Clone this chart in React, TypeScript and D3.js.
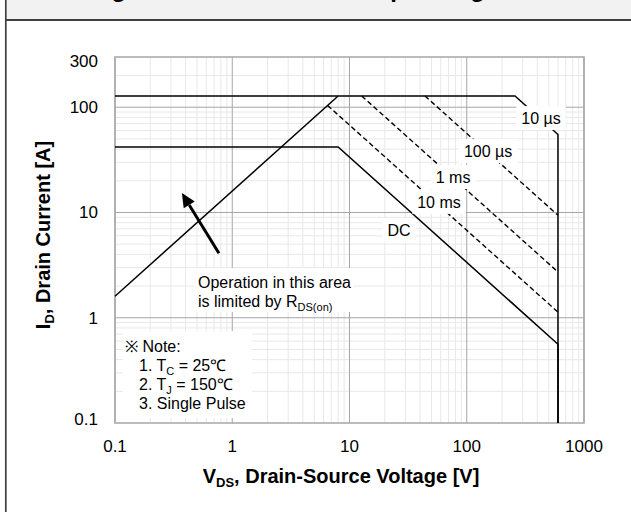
import React from 'react';
import * as d3 from 'd3';

const W = 631;
const H = 512;
const plot = { left: 115, right: 584, top: 57, bottom: 423 };

const xTicks = [0.1, 1, 10, 100, 1000];
const yTicks = [0.1, 1, 10, 100, 300];
const xTickLabels = ['0.1', '1', '10', '100', '1000'];
const yTickLabels = ['0.1', '1', '10', '100', '300'];

// SOA boundaries, points as [V_DS, I_D]
const limit10us: [number, number][] = [[0.1, 128], [258, 128], [600, 55], [600, 0.1]];
const limitDC: [number, number][] = [[0.1, 42], [8, 42], [600, 0.56], [600, 0.1]];
const limitRds: [number, number][] = [[0.1, 1.6], [8, 128]];
const limit100us: [number, number][] = [[44, 128], [600, 9.4]];
const limit1ms: [number, number][] = [[12.7, 128], [600, 2.72]];
const limit10ms: [number, number][] = [[6.5, 104], [600, 1.13]];

const curveLabels = ['10 µs', '100 µs', '1 ms', '10 ms', 'DC'];
const curveLabelAt: [number, number][] = [[430, 78.9], [152, 38.3], [76.4, 21.7], [58, 12.6], [26.4, 6.8]];

// arrow tail and tip, in [V_DS, I_D]
const arrowFrom: [number, number] = [0.77, 4.1];
const arrowTo: [number, number] = [0.372, 15.3];

const FONT = '"Liberation Sans", Arial, sans-serif';

const textWidth = (s: string, font: string) => {
  const c = document.createElement('canvas').getContext('2d');
  if (!c) return s.length * 8;
  c.font = font;
  return c.measureText(s).width;
};

const App = () => {
  const x = d3.scaleLog().domain([0.1, 1000]).range([plot.left, plot.right]);
  const y = d3.scaleLog().domain([0.1, 300]).range([plot.bottom, plot.top]);

  const line = d3.line<[number, number]>()
    .x(d => x(d[0]))
    .y(d => y(d[1]));

  // minor grid values 2..9 in every decade
  const minorX: number[] = [];
  [0.1, 1, 10, 100].forEach(d => d3.range(2, 10).forEach(k => minorX.push(d * k)));
  const minorY: number[] = [];
  [0.1, 1, 10, 100].forEach(d => d3.range(2, 10).forEach(k => {
    if (d * k < 300) minorY.push(d * k);
  }));

  const solid = [limit10us, limitDC, limitRds];
  const dashed = [limit100us, limit1ms, limit10ms];

  // arrow pointing into the R_DS(on) limited area
  const tail = [x(arrowFrom[0]), y(arrowFrom[1])];
  const tip = [x(arrowTo[0]), y(arrowTo[1])];
  const ang = Math.atan2(tip[1] - tail[1], tip[0] - tail[0]);
  const hl = 14, hw = 6.5;
  const base = [tip[0] - hl * Math.cos(ang), tip[1] - hl * Math.sin(ang)];
  const head = [
    tip,
    [base[0] + hw * Math.sin(ang), base[1] - hw * Math.cos(ang)],
    [base[0] - hw * Math.sin(ang), base[1] + hw * Math.cos(ang)],
  ];

  return (
    <svg width={W} height={H} style={{ position: 'absolute', left: 0, top: 0 }} fontFamily={FONT}>
      <rect x={0} y={0} width={W} height={H} fill="#fff" />
      {/* header band, title mostly cut off at the top */}
      <rect x={6} y={0} width={W - 6} height={20} fill="#f2f2f2" />
      <text x={317} y={-3} textAnchor="middle" fontSize={24} fontWeight="bold" fill="#000">
        Figure 9. Maximum Safe Operating Area
      </text>
      <line x1={6} x2={W} y1={20} y2={20} stroke="#404040" strokeWidth={2} />
      <line x1={5.8} x2={5.8} y1={0} y2={H} stroke="#404040" strokeWidth={1.7} />

      {/* grid */}
      {minorX.map(v => (
        <line key={'mx' + v} x1={x(v)} x2={x(v)} y1={plot.top} y2={plot.bottom} stroke="#e8e8e8" />
      ))}
      {minorY.map(v => (
        <line key={'my' + v} x1={plot.left} x2={plot.right} y1={y(v)} y2={y(v)} stroke="#e8e8e8" />
      ))}
      {xTicks.map(v => (
        <line key={'gx' + v} x1={x(v)} x2={x(v)} y1={plot.top} y2={plot.bottom} stroke="#a6a6a6" />
      ))}
      {[1, 10, 100].map(v => (
        <line key={'gy' + v} x1={plot.left} x2={plot.right} y1={y(v)} y2={y(v)} stroke="#a6a6a6" />
      ))}
      <rect x={plot.left} y={plot.top} width={plot.right - plot.left} height={plot.bottom - plot.top}
        fill="none" stroke="#a6a6a6" strokeWidth={1.5} />

      {/* curves */}
      {solid.map((s, i) => (
        <path key={'s' + i} d={line(s) || ''} fill="none" stroke="#000" strokeWidth={1.5} />
      ))}
      {dashed.map((s, i) => (
        <path key={'d' + i} d={line(s) || ''} fill="none" stroke="#000" strokeWidth={1.4} strokeDasharray="5,3" />
      ))}

      {/* curve labels with white boxes */}
      {curveLabels.map((t, i) => {
        const cx = x(curveLabelAt[i][0]);
        const cy = y(curveLabelAt[i][1]);
        const w = textWidth(t, '16px ' + FONT);
        return (
          <g key={'l' + i}>
            <rect x={cx - w / 2 - 5} y={cy - 12} width={w + 10} height={24} fill="#fff" />
            <text x={cx} y={cy + 6} textAnchor="middle" fontSize={16} fill="#000">{t}</text>
          </g>
        );
      })}

      {/* R_DS(on) annotation */}
      <rect x={193} y={268} width={160} height={44} fill="#fff" />
      <text x={198} y={288} fontSize={16}>Operation in this area</text>
      <text x={198} y={307} fontSize={16}>
        is limited by R<tspan fontSize={11} dy={4}>DS(on)</tspan>
      </text>
      <line x1={tail[0]} y1={tail[1]} x2={base[0]} y2={base[1]} stroke="#000" strokeWidth={3} />
      <polygon points={head.map(p => p.join(',')).join(' ')} fill="#000" />

      {/* note box */}
      <rect x={123} y={331} width={129} height={87} fill="#fff" />
      <text x={125} y={352} fontSize={16}>※ Note:</text>
      <text x={139} y={371} fontSize={16}>
        1. T<tspan fontSize={11} dy={4}>C</tspan><tspan dy={-4}> = 25℃</tspan>
      </text>
      <text x={139} y={390} fontSize={16}>
        2. T<tspan fontSize={11} dy={4}>J</tspan><tspan dy={-4}> = 150℃</tspan>
      </text>
      <text x={139} y={409} fontSize={16}>3. Single Pulse</text>

      {/* axes labels */}
      {xTicks.map((v, i) => (
        <text key={'xt' + v} x={x(v)} y={451.5} textAnchor="middle" fontSize={17}>{xTickLabels[i]}</text>
      ))}
      {yTicks.map((v, i) => (
        <text key={'yt' + v} x={98} y={Math.min(Math.max(y(v) + 6, 67), 425)} textAnchor="end" fontSize={17}>
          {yTickLabels[i]}
        </text>
      ))}
      <text x={341} y={483} textAnchor="middle" fontSize={20} fontWeight="bold">
        V<tspan fontSize={13} dy={4}>DS</tspan><tspan dy={-4}>, Drain-Source Voltage [V]</tspan>
      </text>
      <text transform="translate(50,235) rotate(-90)" textAnchor="middle" fontSize={20} fontWeight="bold">
        I<tspan fontSize={13} dy={4}>D</tspan><tspan dy={-4}>, Drain Current [A]</tspan>
      </text>
    </svg>
  );
};

export default App;
